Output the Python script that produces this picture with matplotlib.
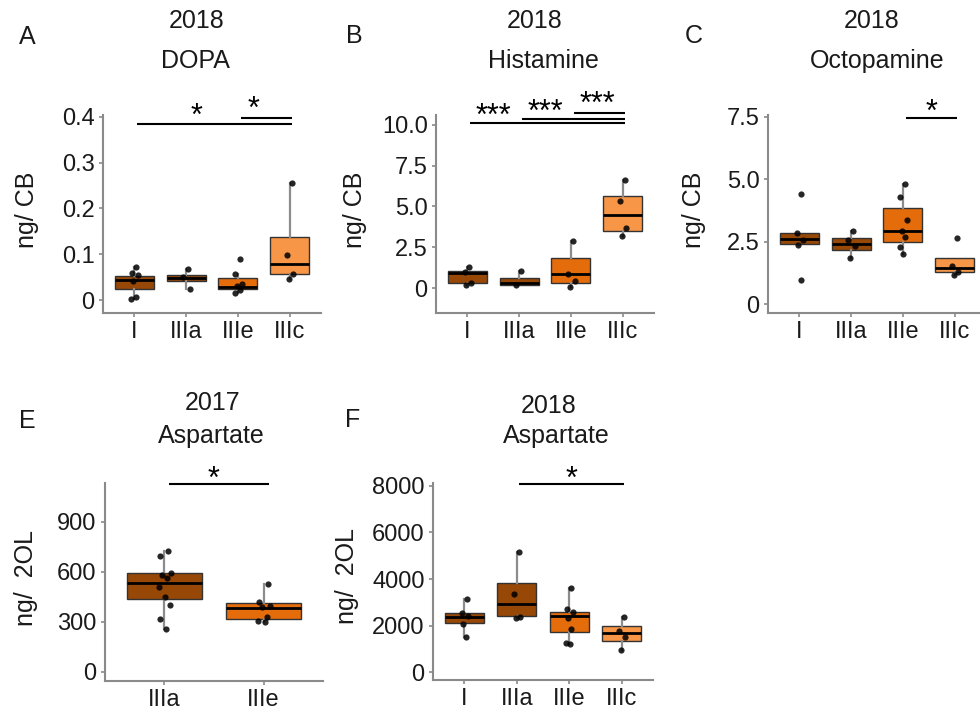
import matplotlib
matplotlib.use("Agg")
import matplotlib.pyplot as plt

plt.rcParams['font.family'] = ['Liberation Sans', 'DejaVu Sans']

W, H = 980, 717
DPI = 100

# ---------------- data ----------------
groups4 = ["I", "IIIa", "IIIe", "IIIc"]
groups2 = ["IIIa", "IIIe"]
colors = {"I": "#974706", "IIIa": "#974706", "IIIe": "#E46C0A", "IIIc": "#F79646"}

# box stats: (whislo, q1, median, q3, whishi)
dopa_box = [(0.003, 0.024, 0.043, 0.052, 0.073),
            (0.024, 0.042, 0.049, 0.055, 0.067),
            (0.016, 0.025, 0.029, 0.049, 0.057),
            (0.047, 0.058, 0.080, 0.137, 0.255)]
dopa_pts = [[0.073, 0.060, 0.055, 0.042, 0.006, 0.003],
            [0.067, 0.050, 0.024],
            [0.089, 0.057, 0.036, 0.031, 0.022, 0.016],
            [0.255, 0.098, 0.058, 0.047]]

hist_box = [(0.19, 0.29, 0.90, 1.06, 1.31),
            (0.18, 0.18, 0.29, 0.63, 1.06),
            (0.08, 0.33, 0.86, 1.86, 2.90),
            (3.19, 3.50, 4.48, 5.64, 6.63)]
hist_pts = [[1.31, 1.00, 0.33, 0.19],
            [1.06, 0.18],
            [2.90, 0.86, 0.40, 0.08],
            [6.63, 5.34, 3.66, 3.19]]

octo_box = [(2.37, 2.41, 2.60, 2.84, 2.86),
            (1.86, 2.17, 2.40, 2.64, 2.93),
            (2.01, 2.50, 2.93, 3.84, 4.81),
            (1.16, 1.30, 1.46, 1.84, 1.84)]
octo_pts = [[4.40, 2.86, 2.57, 2.37, 0.96],
            [2.93, 2.57, 2.33, 1.86],
            [4.81, 4.31, 3.37, 2.93, 2.68, 2.30, 2.01],
            [2.64, 1.54, 1.30, 1.16]]

asp17_box = [(258, 436, 536, 592, 726),
             (298, 318, 382, 416, 526)]
asp17_pts = [[726, 698, 596, 582, 562, 512, 452, 400, 316, 258],
             [526, 422, 398, 390, 332, 306, 298]]

asp18_box = [(1520, 2122, 2380, 2523, 3125),
             (2308, 2423, 2925, 3813, 5175),
             (1220, 1735, 2410, 2595, 3627),
             (946, 1347, 1692, 1978, 2350)]
asp18_pts = [[3125, 2523, 2410, 2065, 1520],
             [5175, 3340, 2380, 2308],
             [3627, 2710, 2560, 2337, 1835, 1262, 1220],
             [2350, 1777, 1520, 946]]

# significance: (group_from, group_to, y_line, label, label_x, label_y)
dopa_sig = [(1, 4, 0.384, "*", 2.2, 0.399), (3, 4, 0.397, "*", 3.3, 0.415)]
hist_sig = [(1, 4, 10.12, "***", 1.5, 10.49), (2, 4, 10.37, "***", 2.5, 10.73),
            (3, 4, 10.74, "***", 3.5, 11.22)]
octo_sig = [(3, 4, 7.47, "*", 3.55, 7.67)]
asp17_sig = [(1, 2, 1128, "*", 1.5, 1152)]
asp18_sig = [(2, 4, 8086, "*", 3.05, 8258)]

panels = [
    dict(letter="A", year="2018", name="DOPA", groups=groups4, box=dopa_box, pts=dopa_pts,
         sig=dopa_sig, ylim=(-0.028, 0.404), yticks=[0, 0.1, 0.2, 0.3, 0.4],
         yticklabels=["0", "0.1", "0.2", "0.3", "0.4"], ylabel="ng/ CB",
         rect=(103, 321, 115, 313), letter_xy=(27, 37), title_x=(197, 195), title_y=(21, 61),
         ylab_xy=(27, 210)),
    dict(letter="B", year="2018", name="Histamine", groups=groups4, box=hist_box, pts=hist_pts,
         sig=hist_sig, ylim=(-1.53, 10.6), yticks=[0, 2.5, 5.0, 7.5, 10.0],
         yticklabels=["0", "2.5", "5.0", "7.5", "10.0"], ylabel="ng/ CB",
         rect=(436, 654, 115, 313), letter_xy=(354, 36), title_x=(535, 543), title_y=(21, 61),
         ylab_xy=(355, 210)),
    dict(letter="C", year="2018", name="Octopamine", groups=groups4, box=octo_box, pts=octo_pts,
         sig=octo_sig, ylim=(-0.36, 7.58), yticks=[0, 2.5, 5.0, 7.5],
         yticklabels=["0", "2.5", "5.0", "7.5"], ylabel="ng/ CB",
         rect=(768, 986, 115, 313), letter_xy=(694, 36), title_x=(872, 877), title_y=(21, 61),
         ylab_xy=(694, 210)),
    dict(letter="E", year="2017", name="Aspartate", groups=groups2, box=asp17_box, pts=asp17_pts,
         sig=asp17_sig, ylim=(-54, 1134), yticks=[0, 300, 600, 900],
         yticklabels=["0", "300", "600", "900"], ylabel="ng/  2OL",
         rect=(105, 323, 483, 681), letter_xy=(27, 421), title_x=(213, 211), title_y=(403, 436),
         ylab_xy=(26, 578)),
    dict(letter="F", year="2018", name="Aspartate", groups=groups4, box=asp18_box, pts=asp18_pts,
         sig=asp18_sig, ylim=(-344, 8129), yticks=[0, 2000, 4000, 6000, 8000],
         yticklabels=["0", "2000", "4000", "6000", "8000"], ylabel="ng/  2OL",
         rect=(433, 653, 483, 680), letter_xy=(353, 420), title_x=(549, 556), title_y=(406, 436),
         ylab_xy=(347, 576)),
]

jitter_pattern = [0.04, -0.05, 0.07, -0.02, 0.03, -0.06, 0.01, 0.06, -0.04, 0.02]

fig = plt.figure(figsize=(W / DPI, H / DPI), dpi=DPI)
fig.patch.set_facecolor("white")

AX_GREY = "#8a8a8a"
TXT = "#1a1a1a"

def fx(px):
    return px / W

def fy(py):
    return 1 - py / H

for p in panels:
    l, r, t, b = p["rect"]
    ax = fig.add_axes([fx(l), fy(b), (r - l) / W, (b - t) / H])
    n = len(p["groups"])
    pos = list(range(1, n + 1))
    stats = []
    for g, s in zip(p["groups"], p["box"]):
        stats.append(dict(whislo=s[0], q1=s[1], med=s[2], q3=s[3], whishi=s[4], fliers=[], label=g))
    bp = ax.bxp(stats, positions=pos, widths=0.75, patch_artist=True, showcaps=False,
                showfliers=False,
                boxprops=dict(edgecolor="#333333", linewidth=1.0),
                medianprops=dict(color="black", linewidth=2.0),
                whiskerprops=dict(color="#8c8c8c", linewidth=1.6),
                zorder=2)
    for patch, g in zip(bp["boxes"], p["groups"]):
        patch.set_facecolor(colors[g])
    for i, vals in enumerate(p["pts"]):
        xs = [pos[i] + jitter_pattern[k % len(jitter_pattern)] for k in range(len(vals))]
        ax.scatter(xs, vals, s=20, color="black", alpha=0.85, zorder=4, linewidths=0)
    for (g1, g2, yl, lab, lx, ly) in p["sig"]:
        ax.plot([g1 + 0.05, g2 + 0.05], [yl, yl], color="black", lw=1.5, clip_on=False,
                solid_capstyle="butt", zorder=5)
        ax.text(lx, ly, lab, ha="center", va="center", fontsize=22, color="black",
                clip_on=False)
    ax.set_xlim(0.4, n + 0.6)
    ax.set_ylim(*p["ylim"])
    ax.set_xticks(pos)
    ax.set_xticklabels(p["groups"])
    ax.set_yticks(p["yticks"])
    ax.set_yticklabels(p["yticklabels"])
    for s in ["top", "right"]:
        ax.spines[s].set_visible(False)
    for s in ["left", "bottom"]:
        ax.spines[s].set_color(AX_GREY)
        ax.spines[s].set_linewidth(1.5)
    ax.tick_params(axis="both", colors=AX_GREY, labelcolor=TXT, labelsize=17,
                   length=3, width=1.2, pad=3)
    ax.set_facecolor("white")

    fig.text(fx(p["letter_xy"][0]), fy(p["letter_xy"][1]), p["letter"], ha="center",
             va="center", fontsize=18, color=TXT)
    fig.text(fx(p["title_x"][0]), fy(p["title_y"][0]), p["year"], ha="center", va="center",
             fontsize=18, color=TXT)
    fig.text(fx(p["title_x"][1]), fy(p["title_y"][1]), p["name"], ha="center", va="center",
             fontsize=18, color=TXT)
    fig.text(fx(p["ylab_xy"][0]), fy(p["ylab_xy"][1]), p["ylabel"], ha="center", va="center",
             rotation=90, fontsize=18, color=TXT)

fig.savefig("out.png", dpi=DPI, facecolor="white")
